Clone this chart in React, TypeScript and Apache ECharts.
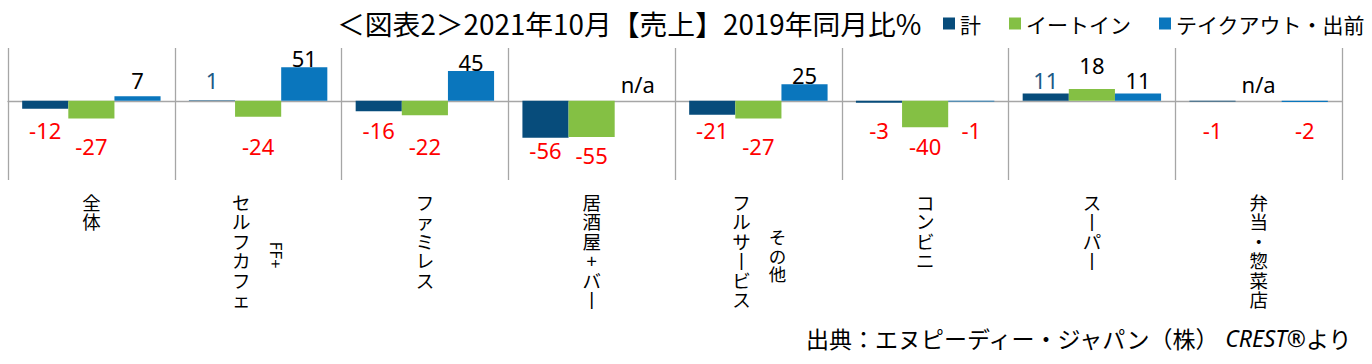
import React, { useEffect, useRef } from 'react';
import * as echarts from 'echarts';

// ---- data ----
const categories = ['全体', 'セルフカフェ', 'ファミレス', '居酒屋+バー', 'フルサービス', 'コンビニ', 'スーパー', '弁当・惣菜店'];
const subLabels = ['', 'FF+', '', '', 'その他', '', '', ''];
const seriesNames = ['計', 'イートイン', 'テイクアウト・出前'];
const totalValues: (number | null)[] = [-12, 1, -16, -56, -21, -3, 11, -1];
const eatInValues: (number | null)[] = [-27, -24, -22, -55, -27, -40, 18, null];
const takeoutValues: (number | null)[] = [7, 51, 45, null, 25, -1, 11, -2];
const missingText = 'n/a';
const titleText = '＜図表2＞2021年10月【売上】2019年同月比%';
const sourcePrefix = '出典：エヌピーディー・ジャパン（株） ';
const sourceItalic = 'CREST®';
const sourceSuffix = 'より';

// ---- style ----
const colors = ['#074C7B', '#84C044', '#0A76BD'];
const posLabelColors = ['#1C5A86', '#000000', '#000000'];
const negLabelColor = '#FF0000';
const gridLineColor = '#A6A6A6';
const cjk = '"Noto Sans CJK JP", "Noto Sans", sans-serif';
const numFont = '"Noto Sans", sans-serif';
const labelRules = [
  { posLift: 21, posGap: 9, negDrop: 29, negGap: 12 },
  { posLift: 36, posGap: 9, negDrop: 45, negGap: 18 },
  { posLift: 21, posGap: 9, negDrop: 29, negGap: 12 },
];
const BAR_CAT_GAP = 0.17;

const toVertical = (s: string) =>
  s.split('').map((c) => (c === 'ー' ? '丨' : c)).join('\n');

export default function App() {
  const ref = useRef<HTMLDivElement>(null);

  useEffect(() => {
    if (!ref.current) return;
    const chart = echarts.init(ref.current, null, { renderer: 'svg' });
    const allValues = [totalValues, eatInValues, takeoutValues];

    const buildSeries = (dataFn: (s: number) => any[]) =>
      seriesNames.map((name, s) => ({
        name,
        type: 'bar',
        barGap: '0%',
        barCategoryGap: `${BAR_CAT_GAP * 100}%`,
        itemStyle: { color: colors[s] },
        label: {
          show: true,
          fontFamily: numFont,
          fontSize: 22,
          align: 'center',
          verticalAlign: 'middle',
        },
        data: dataFn(s),
      }));

    const baseOption: any = {
      animation: false,
      title: [
        {
          text: titleText,
          left: 337,
          top: 9,
          padding: 0,
          textStyle: { fontFamily: cjk, fontSize: 27.8, fontWeight: 'normal', color: '#000' },
        },
        {
          text: sourcePrefix + '{i|' + sourceItalic + '}' + sourceSuffix,
          right: 20,
          top: 326,
          padding: 0,
          textStyle: {
            fontFamily: cjk,
            fontSize: 23,
            fontWeight: 'normal',
            color: '#000',
            rich: {
              i: { fontFamily: '"Noto Sans", sans-serif', fontStyle: 'italic', fontSize: 23, color: '#000' },
            },
          },
        },
      ],
      legend: {
        data: seriesNames,
        left: 943,
        top: 13,
        padding: 0,
        icon: 'rect',
        itemWidth: 12,
        itemHeight: 12,
        itemGap: 28,
        textStyle: { fontFamily: cjk, fontSize: 21, color: '#000' },
      },
      grid: { left: 8, right: 30, top: 48, bottom: 184, containLabel: false, outerBoundsMode: 'none' },
      xAxis: {
        type: 'category',
        data: categories,
        axisLine: { show: true, onZero: true, lineStyle: { color: gridLineColor, width: 1.3 } },
        axisTick: { show: false },
        splitLine: { show: true, lineStyle: { color: gridLineColor, width: 1.3 } },
        axisLabel: {
          interval: 0,
          margin: 12,
          color: '#000',
          fontFamily: cjk,
          fontSize: 18.5,
          lineHeight: 19.5,
          verticalAlign: 'top',
          formatter: (v: string, i: number) =>
            subLabels[i] ? '{l|' + toVertical(v) + '}' : toVertical(v),
          rich: {
            l: { fontFamily: cjk, fontSize: 18.5, lineHeight: 19.5, color: '#000', padding: [0, 34, 0, 0] },
          },
        },
      },
      yAxis: { type: 'value', min: -120, max: 80, show: false, splitLine: { show: false } },
      series: buildSeries((s) => allValues[s].map((v) => (v == null ? '-' : v))),
    };

    chart.setOption(baseOption);

    const yPx = (v: number) => chart.convertToPixel({ yAxisIndex: 0 }, v) as number;
    const xPx = (i: number) => chart.convertToPixel({ xAxisIndex: 0 }, i) as number;
    const zeroY = yPx(0);
    const bottomY = yPx(-120);
    const catW = xPx(1) - xPx(0);
    const barW = (catW * (1 - BAR_CAT_GAP)) / 3;

    const series = buildSeries((s) =>
      allValues[s].map((v) => {
        if (v == null) return '-';
        const r = labelRules[s];
        const by = yPx(v);
        let rel: number;
        if (v >= 0) {
          const target = Math.min(zeroY - r.posLift, by - r.posGap);
          rel = target - by;
        } else {
          const target = Math.max(zeroY + r.negDrop, by + r.negGap);
          rel = target - zeroY;
        }
        return {
          value: v,
          label: { position: ['50%', rel], color: v >= 0 ? posLabelColors[s] : negLabelColor },
        };
      })
    );

    const graphics: any[] = [];
    allValues.forEach((arr, s) => {
      arr.forEach((v, i) => {
        if (v == null) {
          graphics.push({
            type: 'text',
            x: xPx(i) + (s - 1) * barW,
            y: zeroY - 17,
            style: {
              text: missingText,
              fontFamily: numFont,
              fontSize: 22,
              fill: '#000',
              align: 'center',
              verticalAlign: 'middle',
            },
          });
        }
      });
    });
    subLabels.forEach((t, i) => {
      if (!t) return;
      const isLatin = /^[A-Za-z0-9+]+$/.test(t);
      graphics.push({
        type: 'text',
        x: xPx(i) + 19,
        y: bottomY + 75,
        rotation: isLatin ? -Math.PI / 2 : 0,
        style: {
          text: isLatin ? t : toVertical(t),
          fontFamily: cjk,
          fontSize: isLatin ? 16 : 17.5,
          lineHeight: 18.5,
          fill: '#000',
          align: 'center',
          verticalAlign: 'middle',
        },
      });
    });

    chart.setOption({ series, graphic: graphics });

    return () => chart.dispose();
  }, []);

  return (
    <div
      ref={ref}
      style={{ position: 'fixed', left: 0, top: 0, width: 1372, height: 364, background: '#fff' }}
    />
  );
}
